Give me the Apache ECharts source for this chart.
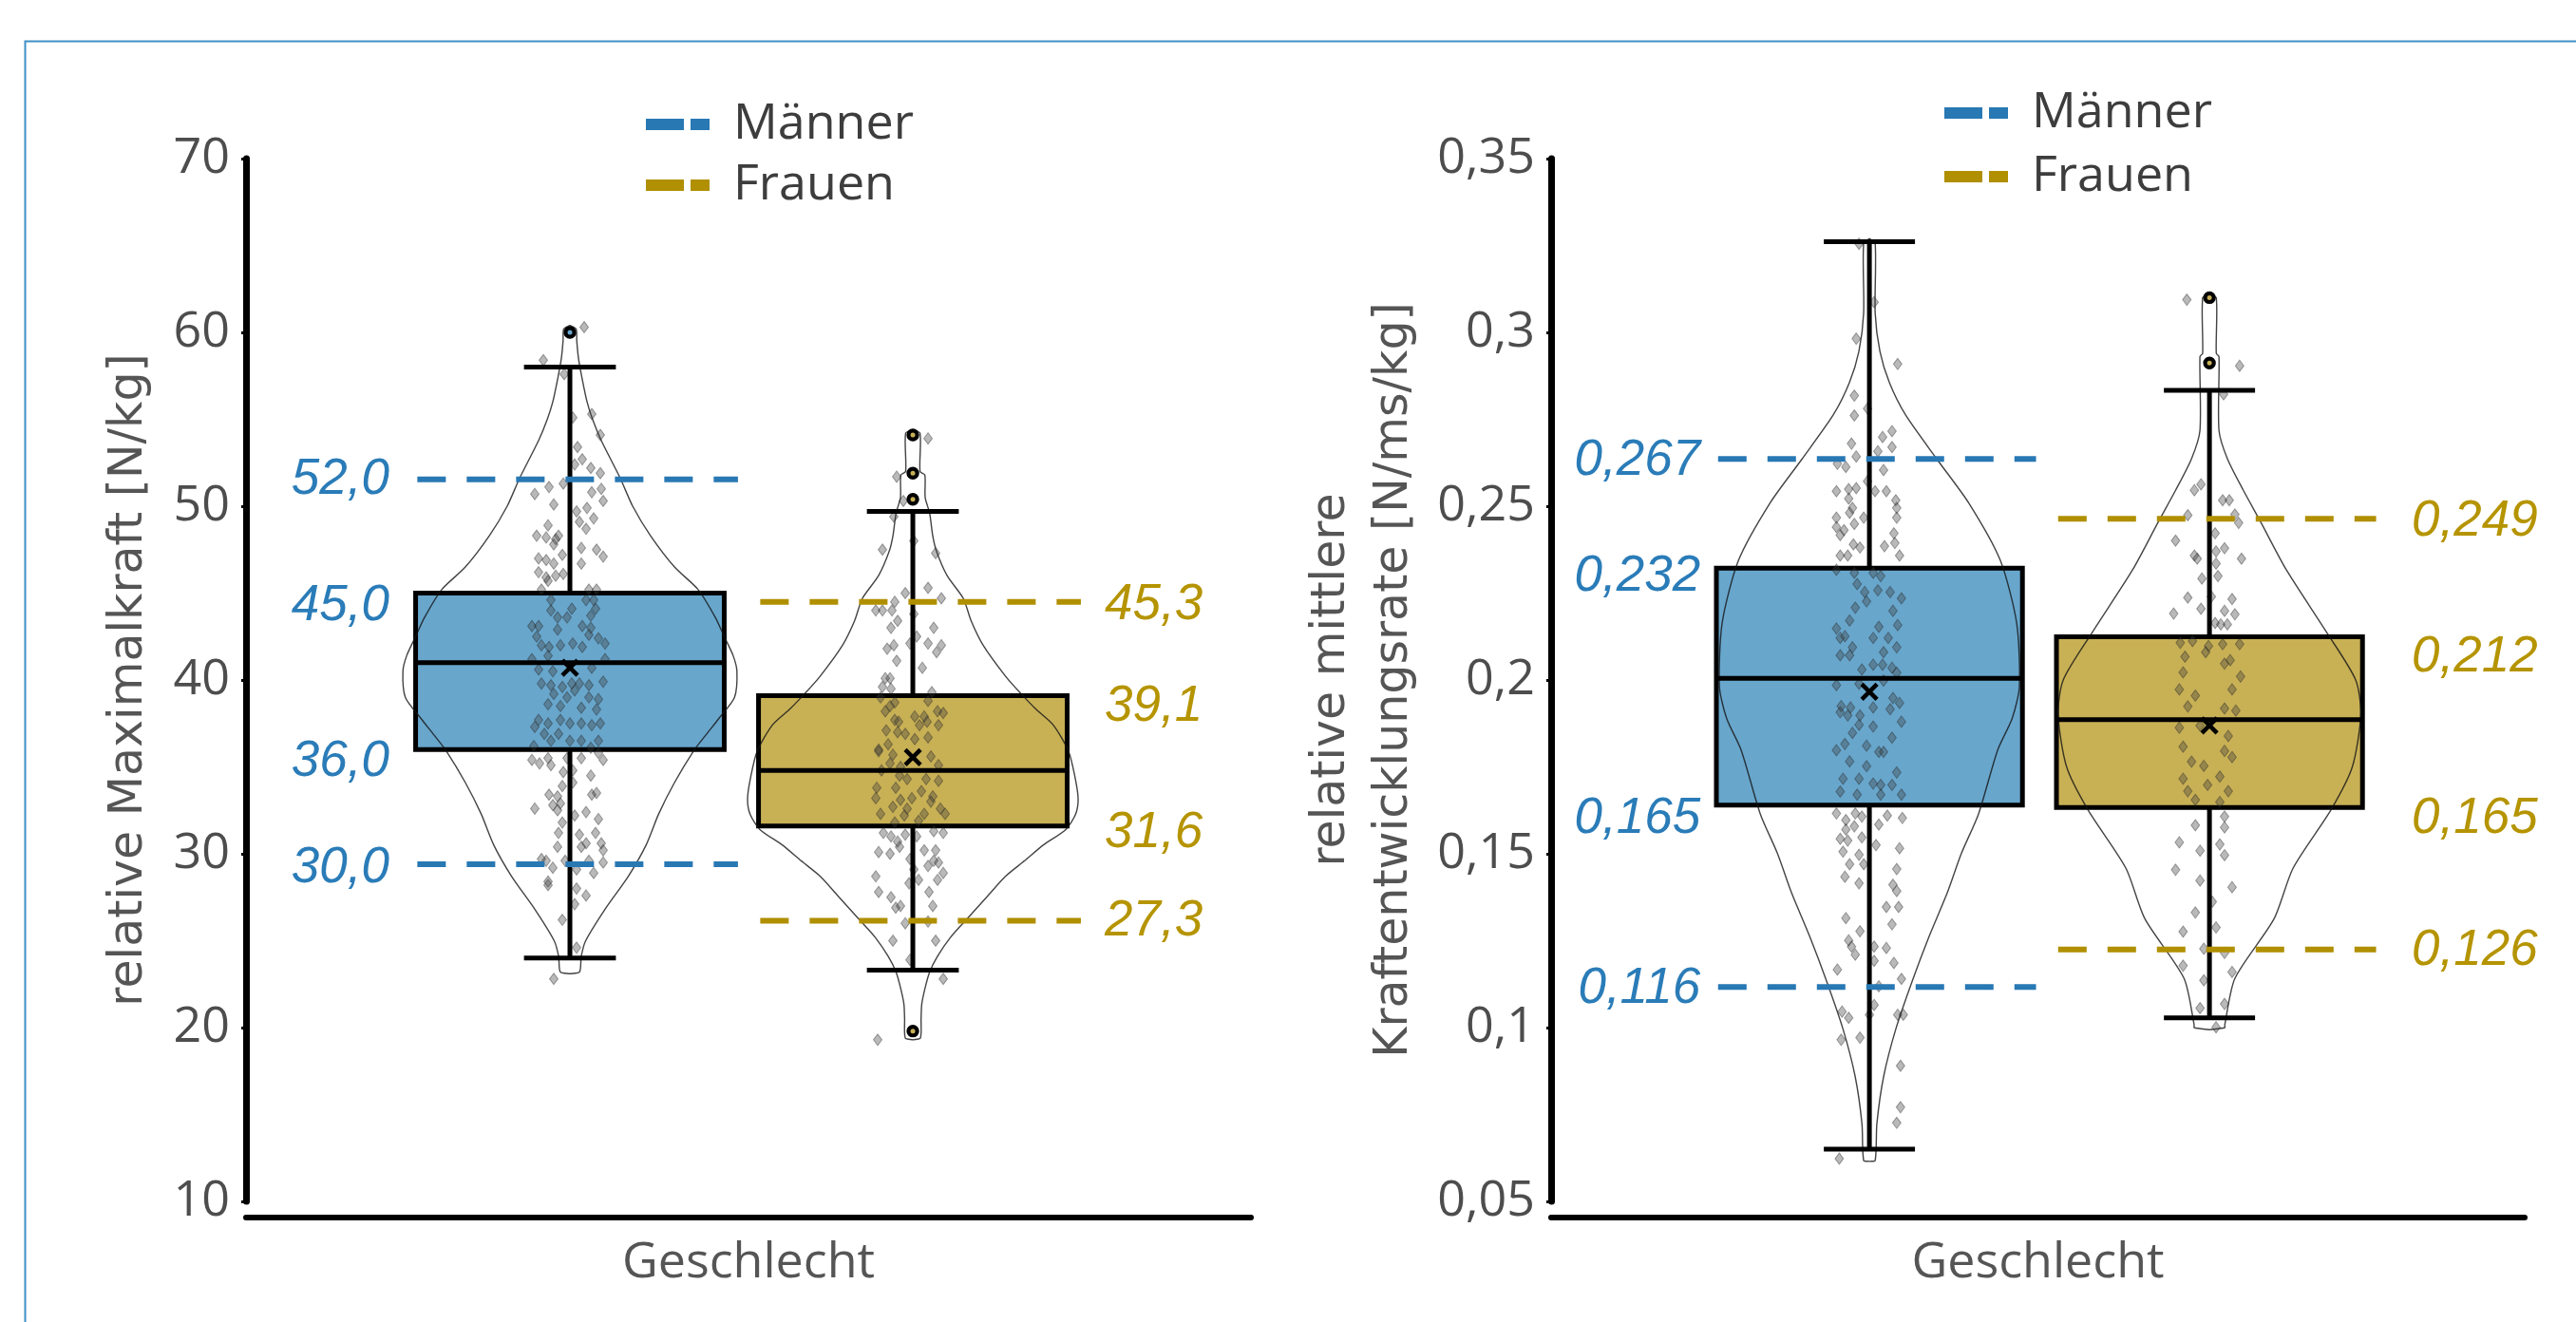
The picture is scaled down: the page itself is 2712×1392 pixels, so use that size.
<!DOCTYPE html>
<html><head><meta charset="utf-8">
<script src="https://cdn.jsdelivr.net/npm/echarts@6/dist/echarts.min.js"></script>
<style>html,body{margin:0;padding:0;background:#fff}#chart{width:2712px;height:1392px}</style>
</head><body><div id="chart"></div>
<script>
// ================= DATA =================
const GROUP_NAMES = ['Männer', 'Frauen'];
const X_TITLE = 'Geschlecht';
const LEFT_Y_TITLE = 'relative Maximalkraft [N/kg]';
const RIGHT_Y_TITLE = 'relative mittlere\nKraftentwicklungsrate [N/ms/kg]';

// Left chart: relative Maximalkraft  — box stats [min, q1, median, q3, max]
const maxM_box = [24.0, 36.0, 41.0, 45.0, 58.0];
const maxF_box = [23.3, 31.6, 34.8, 39.1, 49.7];
const maxM_mean = 40.7;
const maxF_mean = 35.55;
const maxM_outliers = [60.0];
const maxF_outliers = [54.1, 51.9, 50.4, 19.8];
const maxM_refLines = [51.55, 29.4];
const maxF_refLines = [44.5, 26.15];
const maxM_labels = [['52,0', 51.5], ['45,0', 44.26], ['36,0', 35.29], ['30,0', 29.16]];
const maxF_labels = [['45,3', 44.31], ['39,1', 38.46], ['31,6', 31.18], ['27,3', 26.1]];
// violin: [value, half width in category units]
const maxM_violin = [[23.1,0],[23.2,0.028],[24.1,0.033],[25.0,0.046],[26.8,0.102],[28.7,0.17],[30.5,0.222],[32.3,0.259],[34.1,0.305],[35.9,0.36],[36.85,0.397],[37.8,0.435],[39.0,0.48],[40.5,0.487],[41.4,0.476],[42.5,0.45],[43.6,0.424],[45.2,0.374],[46.5,0.305],[48.3,0.235],[50.0,0.183],[51.6,0.147],[53.8,0.091],[55.0,0.066],[56.0,0.05],[57.4,0.035],[58.5,0.025],[59.5,0.02],[60.2,0.018],[60.4,0]];
const maxF_violin = [[19.3,0],[19.4,0.022],[20.5,0.024],[21.35,0.026],[22.3,0.036],[23.2,0.049],[24.1,0.072],[25.2,0.11],[26.3,0.16],[27.5,0.215],[28.7,0.27],[29.6,0.326],[30.5,0.38],[31.4,0.446],[32.3,0.475],[33.2,0.482],[34.5,0.472],[35.9,0.454],[37.4,0.41],[38.3,0.36],[39.2,0.316],[40.2,0.271],[42.0,0.205],[43.4,0.17],[44.7,0.147],[46.0,0.1],[47.4,0.069],[48.3,0.058],[49.6,0.049],[50.5,0.036],[51.8,0.035],[52.0,0.021],[54.2,0.021],[54.4,0]];
// jittered observations: [jitter, value]
const maxM_points = [[15,60.3],[-28,58.4],[-6,57.6],[3,55.1],[23,55.3],[32,54.1],[8,53.4],[13,52.7],[5,52.4],[22,52.2],[32,51.9],[-7,51.3],[-22,51.1],[-37,50.7],[23,50.8],[33,51.0],[35,50.3],[-17,50.1],[7,49.7],[18,49.9],[25,49.3],[10,49.1],[17,48.7],[-23,48.9],[-35,48.3],[-25,48.2],[-15,48.1],[-12,48.3],[-17,47.8],[12,47.6],[28,47.5],[35,47.1],[-33,47.0],[-25,46.9],[-17,46.7],[12,46.7],[-8,47.2],[-33,46.2],[-25,45.9],[-15,46.0],[-7,46.1],[-23,45.7],[-30,45.2],[20,45.2],[28,45.2],
[-20,44.6],[2,44.1],[17,44.6],[25,44.6],[27,44.1],[-20,44.0],[-13,43.6],[-3,43.6],[22,43.7],[-40,43.1],[-33,43.1],[13,43.1],[22,43.0],[-13,42.9],[-35,42.5],[20,42.6],[30,42.4],[3,42.1],[-30,42.0],[-22,41.9],[-10,42.0],[13,41.9],[37,42.1],
[-40,41.2],[-23,41.4],[37,41.2],[-33,40.6],[-18,40.5],[23,40.7],[-30,39.8],[-20,39.7],[-8,39.6],[2,39.8],[10,39.8],[20,39.7],[35,39.9],[-17,39.2],[-3,39.0],[5,39.4],[20,39.0],[30,38.9],[-23,38.6],[-10,38.5],[12,38.4],[28,38.3],[-33,37.7],[-23,37.5],[-10,37.7],[0,37.5],[12,37.5],[23,37.4],[32,37.5],[-37,37.3],[-27,36.9],[-12,36.9],[-20,36.5],[0,36.5],[12,36.5],[30,36.5],[-38,36.2],[22,36.1],
[-40,35.4],[-32,35.2],[-23,35.5],[-20,35.1],[-3,35.5],[12,35.5],[35,35.4],[30,35.8],[-7,34.7],[3,34.8],[22,34.5],[-8,33.9],[3,34.1],[-22,33.4],[-13,33.3],[23,33.4],[28,33.5],[-18,32.8],[-10,32.9],[-37,32.6],[-13,32.5],[17,32.4],[5,32.2],[30,32.0],[-8,31.8],[-12,31.2],[10,31.1],[27,31.2],[17,30.6],[12,30.4],[-13,30.4],[33,30.6],[35,30.2],[-30,29.7],[-25,29.6],[-5,29.6],[20,29.6],[35,29.5],[-18,29.2],[7,29.1],[25,28.9],[-23,28.4],[-23,28.2],[7,28.0],[17,27.6],[5,27.1],[-8,26.2],[7,24.6],[-17,22.8]];
const maxF_points = [[16,53.9],[-17,51.7],[-10,50.3],[-20,49.4],[-32,47.5],[24,47.3],[1,48.0],[16,45.3],[-8,45.0],[30,44.7],[-19,44.5],[-39,44.0],[-32,44.0],[-22,44.0],[1,43.8],[-16,43.4],[-23,43.0],[22,43.0],[4,42.5],[-3,42.1],[16,42.1],[30,42.0],[-20,42.0],[-27,41.8],[25,41.6],[-17,41.1],[10,40.7],[-29,40.1],[-24,40.1],[-32,39.6],[-23,39.5],[20,39.3],[-34,39.0],
[-19,38.7],[16,38.8],[-24,38.5],[-29,38.2],[26,38.2],[32,38.1],[2,37.9],[12,37.9],[-19,37.7],[-15,37.6],[7,37.4],[27,37.4],[15,37.6],[-28,37.1],[-16,37.0],[-8,36.9],[2,36.6],[16,36.7],[-26,36.3],[-36,36.0],
[-36,35.9],[-21,35.7],[19,35.6],[-24,35.2],[-13,35.0],[-33,34.8],[27,35.1],[-14,34.5],[-6,34.3],[14,34.3],[27,34.2],[-18,33.8],[-38,33.8],[9,33.6],[21,33.3],[-39,33.2],[-13,33.1],[-1,33.2],[19,33.0],[-21,32.7],[-6,32.6],[29,32.6],[-34,32.3],[-9,32.2],[12,32.3],[34,32.3],[-19,31.8],[6,31.9],
[-31,31.2],[-23,31.0],[-16,30.7],[-8,31.1],[4,31.0],[22,31.3],[32,31.2],[-36,30.1],[-24,30.0],[-14,30.4],[12,30.2],[24,30.2],[-3,29.7],[22,29.6],[27,29.5],[16,29.3],[1,29.1],[32,28.9],[-39,28.7],[6,28.5],[-4,28.3],[26,28.5],[-36,27.8],[17,27.8],[-23,27.5],[-18,26.9],[-13,27.0],[21,27.0],[16,26.1],[-8,26.0],[-21,25.0],[24,25.0],[-3,23.9],[32,22.8],[-37,19.3]];

// Right chart: relative mittlere Kraftentwicklungsrate
const rfdM_box = [0.065, 0.164, 0.2005, 0.2322, 0.3261];
const rfdF_box = [0.1028, 0.1633, 0.1886, 0.2124, 0.2833];
const rfdM_mean = 0.1966;
const rfdF_mean = 0.1869;
const rfdM_outliers = [];
const rfdF_outliers = [0.310, 0.2912];
const rfdM_refLines = [0.2636, 0.1117];
const rfdF_refLines = [0.2464, 0.1225];
const rfdM_labels = [['0,267', 0.263], ['0,232', 0.2298], ['0,165', 0.1601], ['0,116', 0.1112]];
const rfdF_labels = [['0,249', 0.2456], ['0,212', 0.2066], ['0,165', 0.1601], ['0,126', 0.1221]];
const rfdM_violin = [[0.0615,0],[0.0618,0.017],[0.0724,0.022],[0.086,0.042],[0.0997,0.078],[0.1134,0.126],[0.1261,0.175],[0.1388,0.229],[0.150,0.27],[0.1615,0.321],[0.1798,0.377],[0.189,0.42],[0.1981,0.441],[0.2164,0.433],[0.2344,0.385],[0.2508,0.293],[0.2636,0.198],[0.2763,0.106],[0.2855,0.059],[0.2945,0.031],[0.3055,0.017],[0.3255,0.017],[0.327,0]];
const rfdF_violin = [[0.0994,0],[0.1,0.045],[0.1008,0.045],[0.1142,0.075],[0.1313,0.19],[0.1459,0.246],[0.1626,0.357],[0.175,0.42],[0.19,0.445],[0.2,0.43],[0.2135,0.346],[0.2317,0.226],[0.2454,0.151],[0.2545,0.10],[0.2636,0.053],[0.2718,0.028],[0.293,0.028],[0.294,0.02],[0.310,0.02],[0.3105,0]];
const rfdM_points = [[-11,0.3255],[-14,0.2982],[5,0.3087],[30,0.2909],[-16,0.2818],[-16,0.2761],[-2,0.2781],[24,0.2716],[14,0.2699],[-19,0.268],[24,0.267],[9,0.2658],[-14,0.2643],[-34,0.2622],[-25,0.2613],[15,0.2604],[-2,0.2572],[-35,0.2543],[-22,0.2549],[-14,0.2552],[6,0.2543],[18,0.2543],[-22,0.2522],[28,0.2517],[-18,0.2495],[-21,0.2481],[29,0.2495],[-35,0.2467],[-6,0.2467],[29,0.2467],[-16,0.2449],[-35,0.244],[-27,0.2431],[26,0.2422],[-31,0.2417],[-17,0.239],[-10,0.2381],[16,0.2385],[27,0.2394],[-31,0.2358],[-23,0.2358],[32,0.2358],
[-35,0.2317],[-16,0.2308],[4,0.2308],[12,0.2299],[-13,0.2276],[-5,0.2253],[9,0.2258],[22,0.2253],[34,0.2235],[-15,0.2208],[-3,0.2226],[25,0.2199],[-21,0.2171],[10,0.2153],[30,0.2158],[-35,0.2148],[-31,0.2121],[-26,0.2126],[4,0.2121],[20,0.2121],[-18,0.2094],[29,0.2094],[-31,0.2071],[-21,0.2071],[15,0.208],[4,0.2044],[-8,0.203],[14,0.2044],[24,0.2035],[29,0.2021],[-11,0.1989],[15,0.1998],[-35,0.1985],[25,0.1948],[32,0.1934],[-30,0.1925],[-20,0.1921],[4,0.1921],[22,0.1916],[-31,0.1907],[-23,0.1898],[-10,0.1898],[34,0.188],[-11,0.1871],[4,0.1866],[-18,0.1848],[24,0.1834],[-26,0.1816],[-3,0.1811],[-35,0.1798],[10,0.1793],[15,0.1793],[-21,0.1766],[-3,0.1752],[29,0.1734],[-28,0.1716],[-11,0.1716],[4,0.1702],[12,0.1698],[24,0.1698],[-31,0.1679],[-13,0.167],[12,0.167],[34,0.167],
[-35,0.1616],[-25,0.1597],[-15,0.1616],[-8,0.1607],[10,0.1584],[19,0.161],[35,0.1603],[-16,0.1579],[-25,0.157],[-31,0.1543],[-23,0.1538],[-8,0.1547],[7,0.1525],[32,0.1516],[-28,0.1506],[-11,0.1497],[-21,0.147],[-6,0.147],[29,0.1456],[-26,0.1434],[-11,0.1415],[25,0.1411],[29,0.1393],
[-25,0.1315],[-10,0.1277],[18,0.1347],[31,0.1347],[24,0.1297],[-22,0.1251],[-19,0.1233],[-15,0.121],[5,0.1233],[18,0.1229],[26,0.1186],[-34,0.1167],[5,0.1192],[34,0.114],[10,0.1119],[5,0.1065],[-29,0.1046],[-22,0.1028],[0,0.1037],[30,0.1037],[36,0.1037],[-30,0.0965],[-10,0.0971],[33,0.089],[33,0.0771],[29,0.0726],[-32,0.0623]];
const rfdF_points = [[-24,0.3094],[32,0.2904],[15,0.2822],[-9,0.2563],[-16,0.2546],[14,0.2517],[21,0.2517],[-23,0.2474],[27,0.2476],[31,0.2452],[6,0.2422],[-36,0.2401],[-16,0.2358],[-13,0.2349],[16,0.2379],[7,0.237],[34,0.2349],[7,0.2335],[-8,0.2292],[9,0.2299],[-23,0.2237],[2,0.224],[24,0.2233],[-38,0.2191],[-9,0.2205],[16,0.2199],[27,0.2189],[6,0.2164],[12,0.216],[19,0.216],
[-31,0.2107],[-18,0.2112],[-1,0.2098],[14,0.2103],[32,0.2103],[-26,0.2067],[-4,0.208],[22,0.2057],[-28,0.2022],[16,0.2047],[33,0.201],[-32,0.1973],[-15,0.1955],[24,0.1973],[-23,0.1924],[16,0.1918],[28,0.1912],[-32,0.1863],[-10,0.1869],[20,0.1839],[-28,0.1808],[16,0.1796],[-19,0.1765],[24,0.1778],[-6,0.1753],[-28,0.1716],[11,0.1722],[-2,0.1698],[-23,0.168],[20,0.168],[-15,0.1655],[11,0.1649],
[16,0.1607],[-15,0.1582],[16,0.1576],[-32,0.1533],[11,0.1527],[-10,0.1509],[16,0.1496],[-36,0.1454],[-10,0.1423],[24,0.1404],[3,0.1362],[-15,0.1331],[7,0.1288],[-28,0.1276],[-6,0.1227],[16,0.1215],[24,0.116],[-28,0.1178],[-6,0.1136],[-10,0.1056],[16,0.1068],[7,0.1001]];

// ================= STYLE / LAYOUT =================
const BLUE_FILL = '#68a6cc', GOLD_FILL = '#c8b055';
const BLUE_LINE = '#2878b4', GOLD_LINE = '#b08f00';
const BLUE_TEXT = '#2a7cb8', GOLD_TEXT = '#b59400';
const BOX_HALF = 0.45, CAP_HALF = 0.134, REF_FROM = -0.445, REF_TO = 0.49;
const JITTER_SCALE = 1 / 361;
const TICK_FONT = 'Open Sans';
const CENTERS = [1, 2];

function fmtNum(v) { return String(+(+v).toFixed(4)).replace('.', ','); }

function groupSeries(gi, name, center, box, mean, outliers, violin, points, refLines, labels, fill, lineColor, textColor, labelDx, labelAlign) {
  const base = { name, xAxisIndex: gi, yAxisIndex: gi, silent: true, animation: false };
  const data = [[center, box[0], box[4]]];
  const enc = { x: 0, y: [1, 2] };
  return [
    Object.assign({}, base, {
      type: 'custom', z: 2, data, encode: enc, itemStyle: { color: lineColor },
      renderItem: (p, api) => {
        const a = api.coord([center - BOX_HALF, box[3]]), b = api.coord([center + BOX_HALF, box[1]]);
        return { type: 'rect', shape: { x: a[0], y: a[1], width: b[0] - a[0], height: b[1] - a[1] },
          style: { fill: fill, stroke: '#000', lineWidth: 5 } };
      }
    }),
    Object.assign({}, base, {
      type: 'custom', z: 3, data, encode: enc,
      renderItem: (p, api) => {
        const pts = [];
        violin.forEach(([v, h]) => pts.push(api.coord([center + h, v])));
        violin.slice().reverse().forEach(([v, h]) => pts.push(api.coord([center - h, v])));
        return { type: 'polygon', shape: { points: pts, smooth: 0.25 },
          style: { fill: 'none', stroke: 'rgba(20,20,20,0.8)', lineWidth: 1.4 } };
      }
    }),
    Object.assign({}, base, {
      type: 'scatter', z: 4, symbol: 'diamond', symbolSize: [9, 12],
      data: points.map(([j, v]) => [center + j * JITTER_SCALE, v]),
      itemStyle: { color: 'rgba(60,60,60,0.45)', borderColor: 'rgba(35,35,35,0.5)', borderWidth: 1 }
    }),
    Object.assign({}, base, {
      type: 'custom', z: 5, data, encode: enc,
      renderItem: (p, api) => {
        const c = (x, y) => api.coord([x, y]);
        const L = (p1, p2, w) => ({ type: 'line', shape: { x1: p1[0], y1: p1[1], x2: p2[0], y2: p2[1] }, style: { stroke: '#000', lineWidth: w } });
        const ch = [];
        ch.push(L(c(center, box[3]), c(center, box[4]), 5));
        ch.push(L(c(center, box[1]), c(center, box[0]), 5));
        ch.push(L(c(center - CAP_HALF, box[4]), c(center + CAP_HALF, box[4]), 5));
        ch.push(L(c(center - CAP_HALF, box[0]), c(center + CAP_HALF, box[0]), 5));
        ch.push(L(c(center - BOX_HALF, box[2]), c(center + BOX_HALF, box[2]), 5));
        const m = c(center, mean);
        ch.push(L([m[0] - 8, m[1] - 8], [m[0] + 8, m[1] + 8], 4.5));
        ch.push(L([m[0] - 8, m[1] + 8], [m[0] + 8, m[1] - 8], 4.5));
        outliers.forEach(v => {
          const o = c(center, v);
          ch.push({ type: 'circle', shape: { cx: o[0], cy: o[1], r: 4.6 }, style: { fill: fill, stroke: '#000', lineWidth: 4.2 } });
        });
        return { type: 'group', children: ch };
      }
    }),
    Object.assign({}, base, {
      type: 'custom', z: 6, data, encode: enc,
      renderItem: (p, api) => {
        const ch = [];
        refLines.forEach(v => {
          const a = api.coord([center + REF_FROM, v]), b = api.coord([center + REF_TO, v]);
          ch.push({ type: 'line', shape: { x1: a[0], y1: a[1], x2: b[0], y2: b[1] },
            style: { stroke: lineColor, lineWidth: 6, lineDash: [30, 22] } });
        });
        labels.forEach(([t, v]) => {
          const q = api.coord([center, v]);
          ch.push({ type: 'text', style: { text: t, x: q[0] + labelDx, y: q[1], fill: textColor,
            font: 'italic 53px "Liberation Sans", Arial, sans-serif', textAlign: labelAlign, textVerticalAlign: 'middle',
            align: labelAlign, verticalAlign: 'middle' } });
        });
        return { type: 'group', children: ch };
      }
    })
  ];
}

const series = [].concat(
  groupSeries(0, GROUP_NAMES[0], CENTERS[0], maxM_box, maxM_mean, maxM_outliers, maxM_violin, maxM_points, maxM_refLines, maxM_labels, BLUE_FILL, BLUE_LINE, BLUE_TEXT, -190, 'right'),
  groupSeries(0, GROUP_NAMES[1], CENTERS[1], maxF_box, maxF_mean, maxF_outliers, maxF_violin, maxF_points, maxF_refLines, maxF_labels, GOLD_FILL, GOLD_LINE, GOLD_TEXT, 202, 'left'),
  groupSeries(1, GROUP_NAMES[0], CENTERS[0], rfdM_box, rfdM_mean, rfdM_outliers, rfdM_violin, rfdM_points, rfdM_refLines, rfdM_labels, BLUE_FILL, BLUE_LINE, BLUE_TEXT, -178, 'right'),
  groupSeries(1, GROUP_NAMES[1], CENTERS[1], rfdF_box, rfdF_mean, rfdF_outliers, rfdF_violin, rfdF_points, rfdF_refLines, rfdF_labels, GOLD_FILL, GOLD_LINE, GOLD_TEXT, 213, 'left')
);

function yAxis(gi, min, max, interval, title, gap, lh) {
  return {
    type: 'value', gridIndex: gi, min, max, interval,
    name: title, nameLocation: 'middle', nameGap: gap,
    nameTextStyle: { fontFamily: 'DejaVu Sans', fontSize: 49, color: '#555', lineHeight: lh },
    axisLine: { show: true, lineStyle: { color: '#000', width: 7 } },
    axisTick: { show: true, length: 5, lineStyle: { color: '#000', width: 3 } },
    axisLabel: { fontFamily: TICK_FONT, fontSize: 52, color: '#4d4d4d', margin: 17, formatter: fmtNum },
    splitLine: { show: false }
  };
}
function xAxis(gi, min, max) {
  return {
    type: 'value', gridIndex: gi, min, max, offset: 17,
    name: X_TITLE, nameLocation: 'middle', nameGap: 22,
    nameTextStyle: { fontFamily: TICK_FONT, fontSize: 52, color: '#555', lineHeight: 52 },
    axisLine: { show: true, onZero: false, lineStyle: { color: '#000', width: 6 } },
    axisTick: { show: false }, axisLabel: { show: false }, splitLine: { show: false }
  };
}
function legend(left, top, gap) {
  return {
    orient: 'vertical', left, top, itemGap: gap, itemWidth: 67, itemHeight: 12,
    icon: 'path://M0,0H40V12H0Z M47,0H67V12H47Z', selectedMode: false,
    textStyle: { fontFamily: TICK_FONT, fontSize: 52, color: '#3d3d3d', lineHeight: 56, padding: [0, 0, 0, 20] },
    data: [{ name: GROUP_NAMES[0], itemStyle: { color: BLUE_LINE } }, { name: GROUP_NAMES[1], itemStyle: { color: GOLD_LINE } }]
  };
}

const option = {
  backgroundColor: '#fff',
  animation: false,
  grid: [
    { left: 259, top: 167, width: 1058, height: 1098 },
    { left: 1633, top: 167, width: 1025, height: 1098 }
  ],
  xAxis: [xAxis(0, 0.0554, 2.986), xAxis(1, 0.064, 2.927)],
  yAxis: [yAxis(0, 10, 70, 10, LEFT_Y_TITLE, 95, 56), yAxis(1, 0.05, 0.35, 0.05, RIGHT_Y_TITLE, 132, 66)],
  legend: [legend(675, 98, 8), legend(2042, 86, 11)],
  graphic: [{ type: 'rect', left: 24, top: 41, shape: { width: 2720, height: 1400 }, style: { fill: 'none', stroke: '#3f8fc6', lineWidth: 2 }, silent: true }],
  series
};
const chart = echarts.init(document.getElementById('chart'), null, { renderer: 'canvas', width: 2712, height: 1392 });
chart.setOption(option);
</script>
</body></html>
